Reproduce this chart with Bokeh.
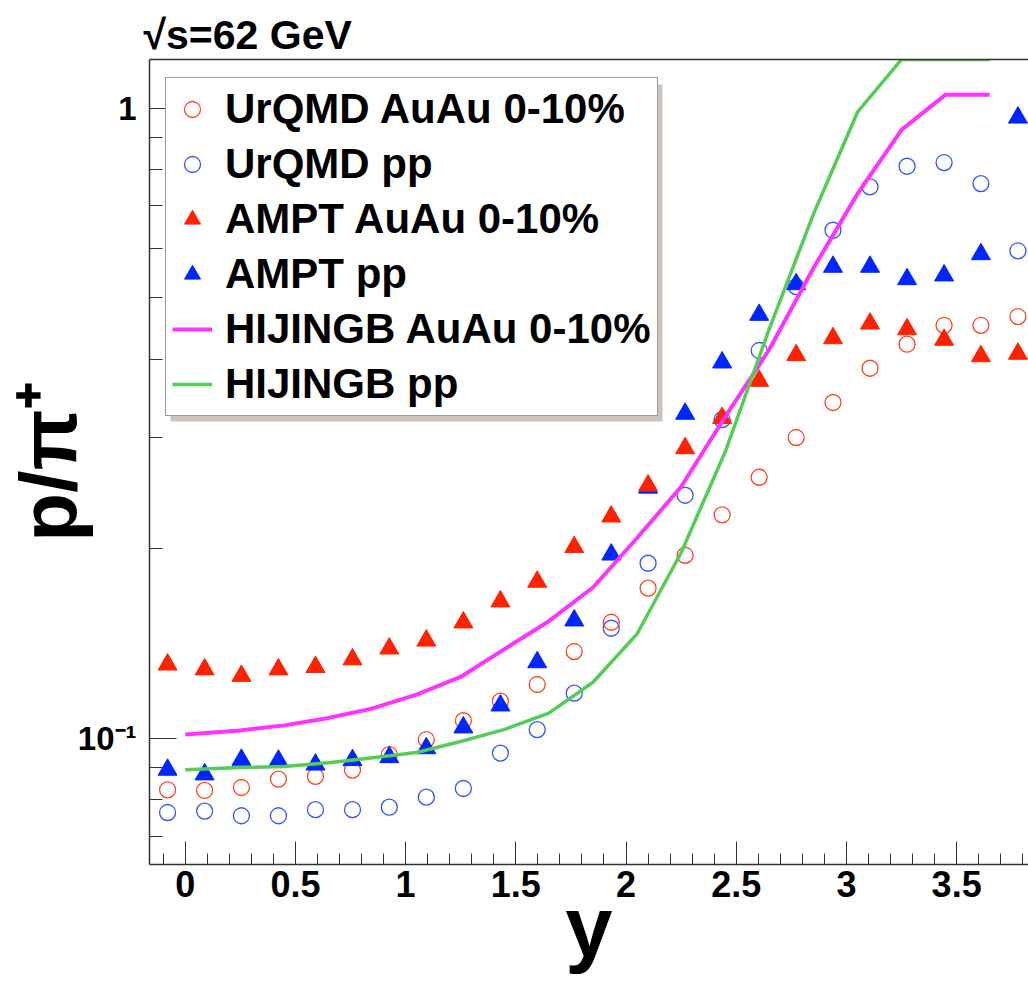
import math
from bokeh.plotting import figure
from bokeh.models import (Range1d, FixedTicker, SingleIntervalTicker, NumeralTickFormatter,
                          Legend, LegendItem, BoxAnnotation, LinearAxis, Title)
from bokeh.embed import file_html
from bokeh.resources import INLINE

# ---------------- data ----------------
rapidity = [-0.08, 0.088, 0.255, 0.423, 0.591, 0.759, 0.926, 1.094, 1.262, 1.43, 1.597, 1.765,
            1.933, 2.1, 2.268, 2.436, 2.604, 2.772, 2.939, 3.107, 3.275, 3.443, 3.61, 3.778]

urqmd_auau = [0.0829, 0.0827, 0.0836, 0.0862, 0.0871, 0.0891, 0.0943, 0.0996, 0.1067, 0.1146,
              0.1218, 0.1374, 0.1529, 0.1732, 0.1953, 0.2264, 0.2597, 0.3003, 0.3413, 0.3868,
              0.4223, 0.4525, 0.4525, 0.4672]
urqmd_pp = [0.0763, 0.0767, 0.0754, 0.0754, 0.0771, 0.0771, 0.0778, 0.0807, 0.0833, 0.0948,
            0.1033, 0.118, 0.1496, 0.1897, 0.2432, 0.3207, 0.4127, 0.5213, 0.6404, 0.7504,
            0.8091, 0.8201, 0.7594, 0.594]
ampt_auau = [0.131, 0.1287, 0.1257, 0.1287, 0.1298, 0.1335, 0.1389, 0.143, 0.1528, 0.165,
             0.1773, 0.2012, 0.225, 0.252, 0.2888, 0.3225, 0.3694, 0.4057, 0.4316, 0.4553,
             0.446, 0.4291, 0.4042, 0.4078]
ampt_pp = [0.0892, 0.0877, 0.0925, 0.0922, 0.0909, 0.0924, 0.0934, 0.0965, 0.1041, 0.1128,
           0.1321, 0.1539, 0.1958, 0.25, 0.3275, 0.395, 0.4701, 0.5258, 0.5603, 0.5603,
           0.5355, 0.5428, 0.5867, 0.9665]

hijing_y = [0.0, 0.25, 0.45, 0.65, 0.85, 1.05, 1.25, 1.45, 1.65, 1.85, 2.05, 2.25, 2.45, 2.65,
            2.85, 3.05, 3.25, 3.45, 3.65]
hijing_auau = [0.1015, 0.103, 0.1049, 0.1078, 0.1116, 0.1174, 0.1252, 0.1387, 0.1535, 0.1736,
               0.208, 0.2509, 0.3239, 0.4142, 0.5574, 0.7314, 0.924, 1.051, 1.051]
hijing_pp = [0.0892, 0.0899, 0.0903, 0.0915, 0.0932, 0.095, 0.0989, 0.1034, 0.1097, 0.1228,
             0.1465, 0.1971, 0.285, 0.4467, 0.6788, 0.9856, 1.195, 1.195, 1.195]

legend_labels = ["UrQMD AuAu 0-10%", "UrQMD pp", "AMPT AuAu 0-10%", "AMPT pp",
                 "HIJINGB AuAu 0-10%", "HIJINGB pp"]
y_major = [0.1, 1.0]
y_minor = [0.07, 0.08, 0.09, 0.2, 0.3, 0.4, 0.5, 0.6, 0.7, 0.8, 0.9]

FONT = "Liberation Sans"
AX = "#333333"

p = figure(width=1028, height=985, y_axis_type="log", title=None,
           x_range=Range1d(-0.162, 3.826), y_range=Range1d(0.0631, 1.195),
           output_backend="svg", toolbar_location=None,
           min_border_left=148, min_border_right=0, min_border_top=59, min_border_bottom=121)
p.outline_line_color = None
p.grid.visible = False
p.background_fill_color = "white"
p.border_fill_color = "white"

# x axis
xa = p.xaxis[0]
xa.ticker = SingleIntervalTicker(interval=0.5, num_minor_ticks=5)
xa.formatter = NumeralTickFormatter(format="0.[0]")
xa.major_tick_in = 23
xa.major_tick_out = 0
xa.minor_tick_in = 11
xa.minor_tick_out = 0
xa.axis_line_color = AX
xa.axis_line_width = 1.5
xa.major_tick_line_color = AX
xa.minor_tick_line_color = AX
xa.major_label_text_font = FONT
xa.major_label_text_font_style = "bold"
xa.major_label_text_font_size = "36px"
xa.major_label_text_color = "black"
xa.major_label_standoff = 6
xa.axis_label = "y"
xa.axis_label_text_font = FONT
xa.axis_label_text_font_style = "bold"
xa.axis_label_text_font_size = "85px"
xa.axis_label_text_color = "black"
xa.axis_label_standoff = -21

# y axis
ya = p.yaxis[0]
ya.ticker = FixedTicker(ticks=y_major, minor_ticks=y_minor)
ya.major_label_overrides = {0.1: "10⁻¹", 1: "1"}
ya.major_tick_in = 27
ya.major_tick_out = 0
ya.minor_tick_in = 13
ya.minor_tick_out = 0
ya.axis_line_color = AX
ya.axis_line_width = 1.5
ya.major_tick_line_color = AX
ya.minor_tick_line_color = AX
ya.major_label_text_font = FONT
ya.major_label_text_font_style = "bold"
ya.major_label_text_font_size = "33px"
ya.major_label_text_color = "black"
ya.major_label_standoff = 13
ya.axis_label = "p/π⁺"
ya.axis_label_text_font = FONT
ya.axis_label_text_font_style = "bold"
ya.axis_label_text_font_size = "80px"
ya.axis_label_text_color = "black"
ya.axis_label_standoff = -18

# top frame line
top = LinearAxis(ticker=FixedTicker(ticks=[]), major_label_text_font_size="0px",
                 major_tick_in=0, major_tick_out=0, minor_tick_in=0, minor_tick_out=0,
                 axis_line_color=AX, axis_line_width=1.5)
p.add_layout(top, "above")

# energy label
p.add_layout(Title(text="√s=62 GeV", align="left", offset=-6, standoff=3,
                   text_font=FONT, text_font_style="bold", text_font_size="41px",
                   text_color="black"), "above")

# data
r_upp = p.scatter(rapidity, urqmd_pp, marker="circle", size=16, fill_color=None,
                  line_color="#3355ff", line_width=1.3)
r_uau = p.scatter(rapidity, urqmd_auau, marker="circle", size=16, fill_color=None,
                  line_color="#ff4422", line_width=1.3)
r_app = p.scatter(rapidity, ampt_pp, marker="triangle", size=19, fill_color="#0026ff",
                  line_color="#0026ff")
r_aau = p.scatter(rapidity, ampt_auau, marker="triangle", size=19, fill_color="#ff2200",
                  line_color="#ff2200")
r_hau = p.line(hijing_y, hijing_auau, line_color="#ff33ff", line_width=4)
r_hpp = p.line(hijing_y, hijing_pp, line_color="#55cc55", line_width=3.5)

# legend shadow + legend
shadow = BoxAnnotation(left=21, right=513, top=780, bottom=443,
                       left_units="screen", right_units="screen",
                       top_units="screen", bottom_units="screen",
                       fill_color="#cdc5bd", fill_alpha=1.0, line_color=None)
p.add_layout(shadow)

renderers = [r_uau, r_upp, r_aau, r_app, r_hau, r_hpp]
legend = Legend(items=[LegendItem(label=l, renderers=[r]) for l, r in zip(legend_labels, renderers)],
                location=(16, 448), margin=0, padding=6, spacing=5,
                glyph_width=40, glyph_height=50, label_height=50, label_standoff=13,
                label_text_font=FONT, label_text_font_style="bold",
                label_text_font_size="42px", label_text_color="black",
                border_line_color=AX, border_line_width=1.5,
                background_fill_color="white", background_fill_alpha=1.0)
p.add_layout(legend)

open("out.html", "w").write(file_html(p, INLINE))
